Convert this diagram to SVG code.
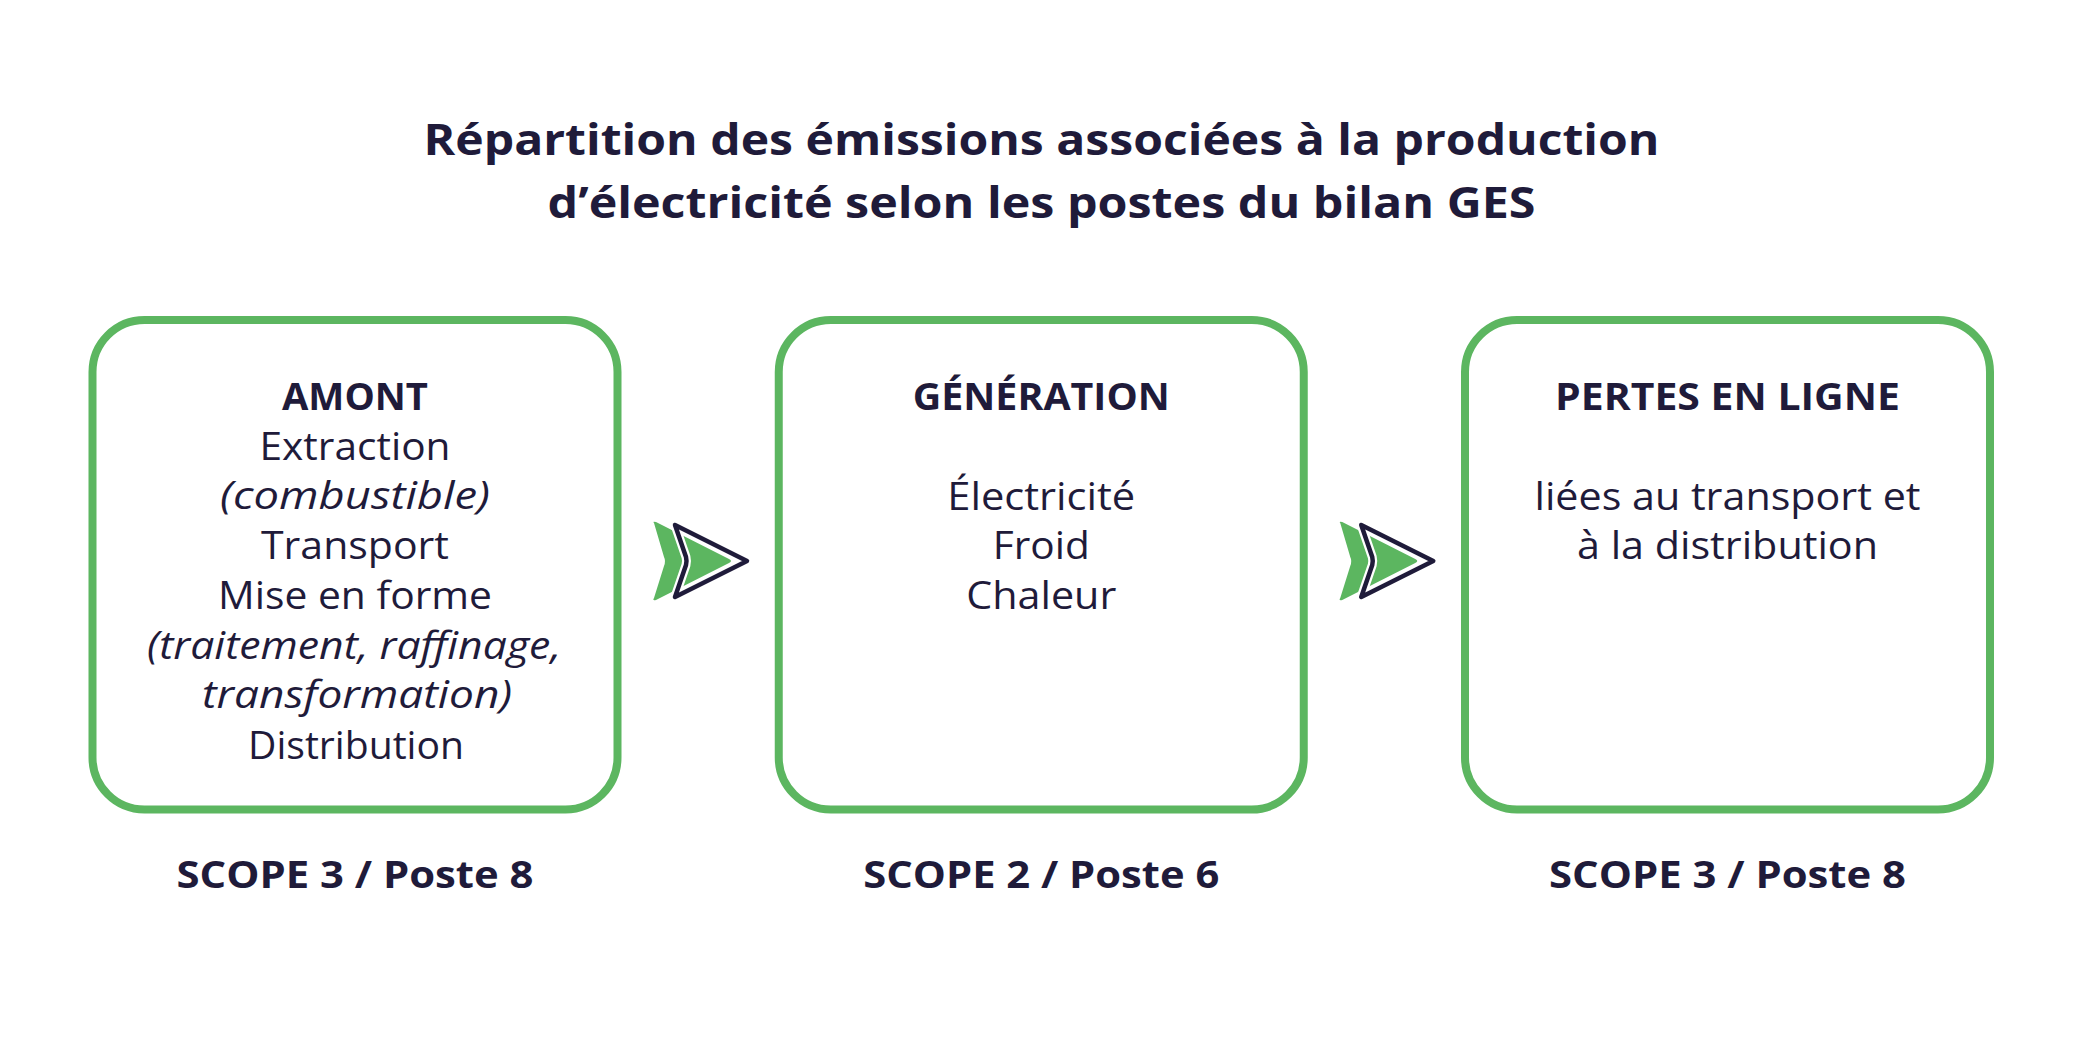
<svg xmlns="http://www.w3.org/2000/svg" width="2083" height="1042" viewBox="0 0 2083 1042">
<style>
.t{font-family:"Open Sans","Noto Sans",sans-serif;fill:#1f1b3a;text-anchor:middle}
.title{font-size:43px;font-weight:700}
.h{font-size:37px;font-weight:700}
.b{font-size:38px;font-weight:400}
.i{font-style:italic}
.s{font-size:38px;font-weight:700}
.box{fill:#fff;stroke:#5cb660;stroke-width:8}
.grn{fill:#5cb660}
.halo{fill:none;stroke:#fff;stroke-width:9;stroke-linejoin:round}
.out{fill:none;stroke:#1f1b3a;stroke-width:4.5;stroke-linejoin:round}
</style>
<defs>
<g id="arrow">
<path class="grn" d="M0,2 Q-2,0 2,1 L75,38 Q79,40 75,42 L2,79 Q-2,80 0,77 L10,45 Q12,40 10,36 Z"/>
<path class="halo" d="M21,4 L93,40 L21,76 L32,44 Q33,40 32,36 Z"/>
<path class="out" d="M21,4 L93,40 L21,76 L32,44 Q33,40 32,36 Z"/>
</g>
</defs>
<rect width="2083" height="1042" fill="#fff"/>
<g id="title" class="t title">
<text x="1041.5" y="155" textLength="1236" lengthAdjust="spacingAndGlyphs">Répartition des émissions associées à la production</text>
<text x="1041.5" y="218" textLength="988" lengthAdjust="spacingAndGlyphs">d’électricité selon les postes du bilan GES</text>
</g>
<g id="node-amont">
<rect class="box" x="92.5" y="320" width="525" height="489.5" rx="52"/>
<g class="t">
<text class="h" x="355" y="410" textLength="146" lengthAdjust="spacingAndGlyphs">AMONT</text>
<text class="b" x="355" y="460" textLength="191" lengthAdjust="spacingAndGlyphs">Extraction</text>
<text class="b i" x="355" y="509" textLength="270" lengthAdjust="spacingAndGlyphs">(combustible)</text>
<text class="b" x="355" y="559" textLength="188" lengthAdjust="spacingAndGlyphs">Transport</text>
<text class="b" x="355" y="609" textLength="274" lengthAdjust="spacingAndGlyphs">Mise en forme</text>
<text class="b i" x="354" y="659" textLength="414" lengthAdjust="spacingAndGlyphs">(traitement, raffinage,</text>
<text class="b i" x="357" y="708" textLength="310" lengthAdjust="spacingAndGlyphs">transformation)</text>
<text class="b" x="356" y="759" textLength="216" lengthAdjust="spacingAndGlyphs">Distribution</text>
</g>
<text class="t s" x="355" y="888" textLength="357" lengthAdjust="spacingAndGlyphs">SCOPE 3 / Poste 8</text>
</g>
<g id="node-generation">
<rect class="box" x="778.75" y="320" width="525" height="489.5" rx="52"/>
<g class="t">
<text class="h" x="1041.25" y="410" textLength="257" lengthAdjust="spacingAndGlyphs">GÉNÉRATION</text>
<text class="b" x="1041.25" y="510" textLength="188" lengthAdjust="spacingAndGlyphs">Électricité</text>
<text class="b" x="1041.25" y="559" textLength="97" lengthAdjust="spacingAndGlyphs">Froid</text>
<text class="b" x="1041.25" y="609" textLength="150" lengthAdjust="spacingAndGlyphs">Chaleur</text>
</g>
<text class="t s" x="1041.25" y="888" textLength="356" lengthAdjust="spacingAndGlyphs">SCOPE 2 / Poste 6</text>
</g>
<g id="node-pertes">
<rect class="box" x="1465" y="320" width="525" height="489.5" rx="52"/>
<g class="t">
<text class="h" x="1727.5" y="410" textLength="345" lengthAdjust="spacingAndGlyphs">PERTES EN LIGNE</text>
<text class="b" x="1727.5" y="510" textLength="386" lengthAdjust="spacingAndGlyphs">liées au transport et</text>
<text class="b" x="1727.5" y="559" textLength="301" lengthAdjust="spacingAndGlyphs">à la distribution</text>
</g>
<text class="t s" x="1727.5" y="888" textLength="357" lengthAdjust="spacingAndGlyphs">SCOPE 3 / Poste 8</text>
</g>
<g id="connectors">
<use href="#arrow" x="654" y="521"/>
<use href="#arrow" x="1340.25" y="521"/>
</g>
</svg>
